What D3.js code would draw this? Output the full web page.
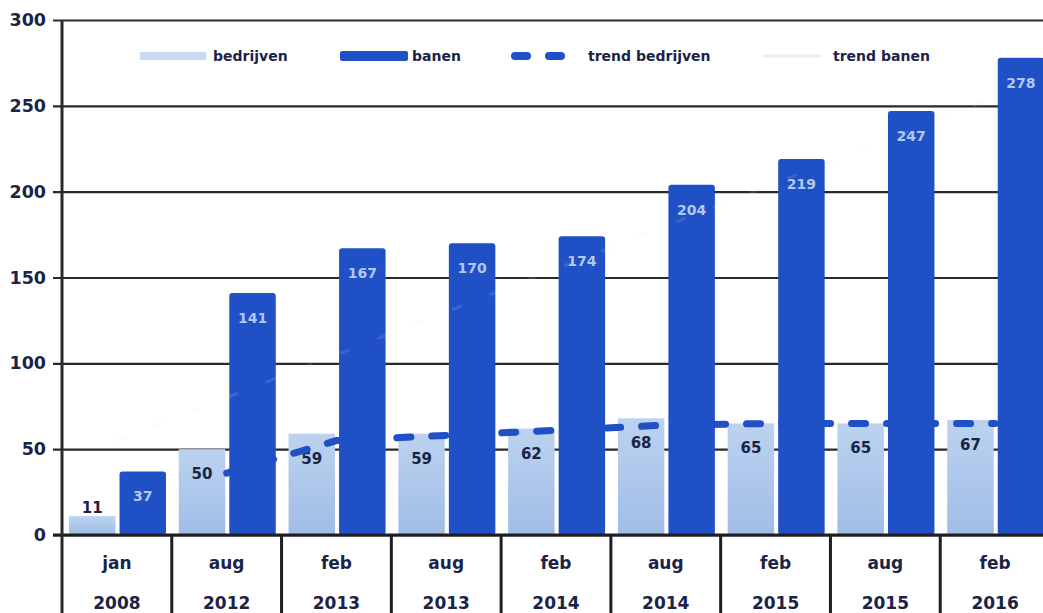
<!DOCTYPE html>
<html>
<head>
<meta charset="utf-8">
<script src="https://cdn.jsdelivr.net/npm/d3@7"></script>
<style>
  html, body { margin: 0; padding: 0; background: #ffffff; overflow: hidden; }
  svg { display: block; font-family: "DejaVu Sans", sans-serif; }
</style>
</head>
<body>
<svg id="chart" width="1043" height="613"></svg>
<script>
// Vacatures / banen per peildatum
const months = ["jan", "aug", "feb", "aug", "feb", "aug", "feb", "aug", "feb"];
const years = ["2008", "2012", "2013", "2013", "2014", "2014", "2015", "2015", "2016"];
const bedrijven = [11, 50, 59, 59, 62, 68, 65, 65, 67];
const banen = [37, 141, 167, 170, 174, 204, 219, 247, 278];
const trendBedrijven = [null, 36, 55, 58, 61, 64, 65, 65, 65];
const trendBanen = [55, 80, 105, 130, 155, 180, 205, 230, 255];
const yTicks = [0, 50, 100, 150, 200, 250, 300];
const seriesNames = ["bedrijven", "banen", "trend bedrijven", "trend banen"];

(function draw() {
  const svg = d3.select("#chart");
  const plotLeft = 62, plotTop = 20, plotBottom = 535, plotRight = 1050;
  const ink = "#1b2447";
  const darkBlue = "#1f50c6";

  const x = d3.scaleBand().domain(d3.range(months.length)).range([plotLeft, plotRight]);
  const inner = d3.scaleBand().domain(["bedrijven", "banen"]).range([7, 104]).paddingInner(0.08);
  const y = d3.scaleLinear().domain([0, 300]).range([plotBottom, plotTop]);

  const defs = svg.append("defs");
  const grad = defs.append("linearGradient").attr("id", "lightGrad")
    .attr("x1", 0).attr("y1", 0).attr("x2", 0).attr("y2", 1);
  grad.append("stop").attr("offset", "0%").attr("stop-color", "#bcd2f0");
  grad.append("stop").attr("offset", "100%").attr("stop-color", "#a0bde6");

  // horizontal gridlines with ticks reaching left of the axis
  const yAxis = d3.axisLeft(y).tickValues(yTicks).tickSize(-(1043 - plotLeft)).tickPadding(16).tickFormat(d3.format("d"));
  const yg = svg.append("g").attr("transform", `translate(${plotLeft},0)`).call(yAxis);
  yg.select(".domain").remove();
  yg.selectAll(".tick line").attr("x1", -9).attr("stroke", "#2a2a2e").attr("stroke-width", 2.2);
  yg.selectAll(".tick text")
    .attr("fill", ink).attr("font-size", 17.5).attr("font-weight", 700)
    .attr("font-family", "DejaVu Sans, sans-serif").attr("x", -16);

  const idx = d3.range(months.length);

  // bedrijven bars
  svg.append("g").selectAll("rect").data(idx).join("rect")
    .attr("x", i => x(i) + inner("bedrijven"))
    .attr("y", i => y(bedrijven[i]))
    .attr("width", inner.bandwidth())
    .attr("height", i => y(0) - y(bedrijven[i]))
    .attr("fill", "url(#lightGrad)");

  // bedrijven labels
  svg.append("g").selectAll("text").data(idx).join("text")
    .attr("x", i => x(i) + inner("bedrijven") + inner.bandwidth() / 2)
    .attr("y", i => {
      const h = y(0) - y(bedrijven[i]);
      return h < 30 ? y(bedrijven[i]) - 3 : y(bedrijven[i]) + 30;
    })
    .attr("text-anchor", "middle")
    .attr("fill", ink).attr("font-size", 15).attr("font-weight", 700)
    .text(i => bedrijven[i]);

  // trend bedrijven (dashed), sits under the banen bars
  const trendLine = d3.line()
    .defined(d => d.v != null)
    .x(d => x(d.i) + x.bandwidth() / 2)
    .y(d => y(d.v));
  svg.append("path")
    .datum(idx.map(i => ({ i, v: trendBedrijven[i] })))
    .attr("d", trendLine)
    .attr("fill", "none").attr("stroke", darkBlue).attr("stroke-width", 7)
    .attr("stroke-linecap", "round").attr("stroke-dasharray", "14 21");

  // banen bars
  svg.append("g").selectAll("rect").data(idx).join("rect")
    .attr("x", i => x(i) + inner("banen"))
    .attr("y", i => y(banen[i]))
    .attr("width", inner.bandwidth())
    .attr("height", i => y(0) - y(banen[i]))
    .attr("rx", 3)
    .attr("fill", darkBlue);

  // banen labels
  svg.append("g").selectAll("text").data(idx).join("text")
    .attr("x", i => x(i) + inner("banen") + inner.bandwidth() / 2)
    .attr("y", i => y(banen[i]) + 30)
    .attr("text-anchor", "middle")
    .attr("fill", "#b3c8f0").attr("font-size", 14).attr("font-weight", 700)
    .text(i => banen[i]);

  // trend banen: barely visible light line
  svg.append("path")
    .datum(idx.map(i => ({ i, v: trendBanen[i] })))
    .attr("d", trendLine)
    .attr("fill", "none").attr("stroke", "#dbe6f8").attr("stroke-width", 3)
    .attr("stroke-opacity", 0.14)
    .attr("stroke-dasharray", "10 30");

  // category table below the axis
  const axisG = svg.append("g");
  axisG.append("line").attr("x1", plotLeft - 9).attr("x2", 1043).attr("y1", plotBottom).attr("y2", plotBottom)
    .attr("stroke", "#1e1e22").attr("stroke-width", 3);
  axisG.append("line").attr("x1", plotLeft).attr("x2", plotLeft).attr("y1", plotTop).attr("y2", 613)
    .attr("stroke", "#2a2a2e").attr("stroke-width", 3);
  axisG.selectAll("line.sep").data(idx.slice(1)).join("line").attr("class", "sep")
    .attr("x1", i => x(i)).attr("x2", i => x(i))
    .attr("y1", plotBottom).attr("y2", 613)
    .attr("stroke", "#1e1e22").attr("stroke-width", 3);
  axisG.selectAll("text.m").data(idx).join("text").attr("class", "m")
    .attr("x", i => x(i) + x.bandwidth() / 2).attr("y", 569)
    .attr("text-anchor", "middle").attr("fill", ink)
    .attr("font-size", 17).attr("font-weight", 700)
    .text(i => months[i]);
  axisG.selectAll("text.yr").data(idx).join("text").attr("class", "yr")
    .attr("x", i => x(i) + x.bandwidth() / 2).attr("y", 609)
    .attr("text-anchor", "middle").attr("fill", ink)
    .attr("font-size", 17).attr("font-weight", 700)
    .text(i => years[i]);

  // legend
  const legendX = [140, 340, 511, 762];
  const textX = [213, 412, 588, 833];
  const legY = 56;
  const leg = svg.append("g");
  seriesNames.forEach((name, k) => {
    const g = leg.append("g");
    if (k === 0) {
      g.append("rect").attr("x", legendX[k]).attr("y", legY - 4).attr("width", 66).attr("height", 8)
        .attr("fill", "#c9dbf3");
    } else if (k === 1) {
      g.append("rect").attr("x", legendX[k]).attr("y", legY - 5).attr("width", 68).attr("height", 10)
        .attr("rx", 2).attr("fill", darkBlue);
    } else if (k === 2) {
      g.append("line").attr("x1", legendX[k] + 4).attr("x2", legendX[k] + 52)
        .attr("y1", legY).attr("y2", legY)
        .attr("stroke", darkBlue).attr("stroke-width", 8).attr("stroke-linecap", "round")
        .attr("stroke-dasharray", "12 22");
    } else {
      g.append("line").attr("x1", legendX[k]).attr("x2", legendX[k] + 60)
        .attr("y1", legY).attr("y2", legY)
        .attr("stroke", "#e9eff9").attr("stroke-width", 3);
    }
    g.append("text").attr("x", textX[k]).attr("y", legY + 5)
      .attr("fill", ink).attr("font-size", 14).attr("font-weight", 700)
      .text(name);
  });
})();
</script>
</body>
</html>
